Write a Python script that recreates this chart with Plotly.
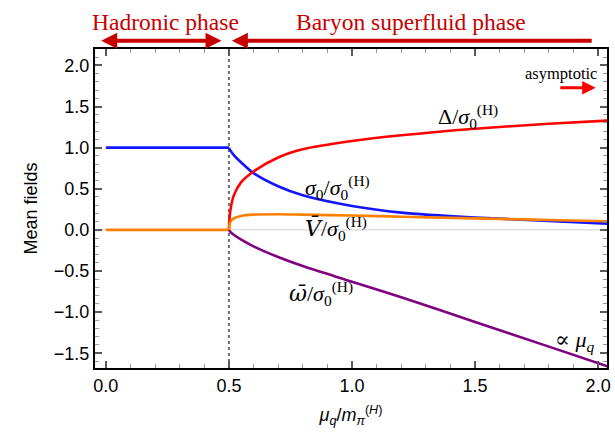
import plotly.graph_objects as go

# ---- data ----
mu_hadronic = [0.0, 0.5]
sigma_hadronic = [1.0, 1.0]
zero_hadronic = [0.0, 0.0]

mu_sf = [0.5, 0.505, 0.52, 0.55, 0.6, 0.7, 0.8, 1.0, 1.2, 1.5, 1.8, 2.04]
sigma0 = [1.0, 0.97, 0.91, 0.82, 0.69, 0.53, 0.42, 0.29, 0.21, 0.15, 0.11, 0.075]
delta = [0.0, 0.22, 0.42, 0.58, 0.71, 0.88, 0.98, 1.08, 1.15, 1.23, 1.29, 1.33]
vbar = [0.0, 0.09, 0.14, 0.17, 0.185, 0.19, 0.185, 0.175, 0.16, 0.14, 0.12, 0.105]
omegabar = [0.0, -0.02, -0.06, -0.12, -0.2, -0.33, -0.44, -0.63, -0.82, -1.12, -1.42, -1.66]

x_ticks = [0.0, 0.5, 1.0, 1.5, 2.0]
y_ticks = [-1.5, -1.0, -0.5, 0.0, 0.5, 1.0, 1.5, 2.0]

BLUE = "rgb(20,20,255)"
RED = "rgb(255,0,0)"
ORANGE = "rgb(255,128,0)"
PURPLE = "rgb(128,0,128)"
DARKRED = "rgb(200,0,0)"
LW = 2.6
SERIF = "Liberation Serif"

fig = go.Figure()

# zero line and transition line
fig.add_shape(type="line", xref="paper", yref="y", x0=0, x1=1, y0=0, y1=0,
              line=dict(color="rgb(205,205,205)", width=1), layer="below")
fig.add_shape(type="line", xref="x", yref="paper", x0=0.5, x1=0.5, y0=0, y1=1,
              line=dict(color="rgb(110,110,110)", width=2, dash="dot"), layer="below")

fig.add_trace(go.Scatter(x=mu_hadronic, y=sigma_hadronic, mode="lines",
                         line=dict(color=BLUE, width=LW)))
fig.add_trace(go.Scatter(x=mu_sf, y=sigma0, mode="lines",
                         line=dict(color=BLUE, width=LW, shape="spline", smoothing=0.8)))
fig.add_trace(go.Scatter(x=mu_sf, y=delta, mode="lines",
                         line=dict(color=RED, width=LW, shape="spline", smoothing=0.8)))
fig.add_trace(go.Scatter(x=mu_hadronic, y=zero_hadronic, mode="lines",
                         line=dict(color=ORANGE, width=LW)))
fig.add_trace(go.Scatter(x=mu_sf, y=omegabar, mode="lines",
                         line=dict(color=PURPLE, width=LW, shape="spline", smoothing=0.8)))
fig.add_trace(go.Scatter(x=mu_sf, y=vbar, mode="lines",
                         line=dict(color=ORANGE, width=LW, shape="spline", smoothing=0.8)))

DJ = "<span style='font-family:DejaVu Serif'>"
tfont = dict(family=SERIF, size=22, color="black")
labels = [
    (1.47, 1.38, "Δ/<i>σ</i><sub>0</sub><sup>(H)</sup>"),
    (0.94, 0.52, "<i>σ</i><sub>0</sub>/<i>σ</i><sub>0</sub><sup>(H)</sup>"),
    (0.935, 0.02, DJ + "<i>V̄</i></span>/<i>σ</i><sub>0</sub><sup>(H)</sup>"),
    (0.875, -0.77, DJ + "<i>ω̄</i></span>/<i>σ</i><sub>0</sub><sup>(H)</sup>"),
    (1.905, -1.35, DJ + "∝</span> <i>μ<sub>q</sub></i>"),
]
for x, y, t in labels:
    fig.add_annotation(x=x, y=y, text=t, showarrow=False, font=tfont)

# asymptotic
fig.add_annotation(x=1.85, y=1.9, text="asymptotic", showarrow=False,
                   font=dict(family=SERIF, size=16.5, color="black"))
fig.add_annotation(x=1.99, y=1.73, ax=1.84, ay=1.73, xref="x", yref="y", axref="x", ayref="y",
                   text="", showarrow=True, arrowhead=2, arrowsize=0.9, arrowwidth=3,
                   arrowcolor=RED)

# phase arrows (above plot)
ytop = 1.026
fig.add_annotation(x=0.47, y=ytop, ax=-0.025, ay=0, xref="x", yref="paper",
                   axref="x", ayref="pixel", text="", showarrow=True,
                   arrowhead=2, startarrowhead=2, arrowside="end+start",
                   arrowsize=0.8, startarrowsize=0.8, arrowwidth=4, arrowcolor=DARKRED)
fig.add_annotation(x=0.512, y=ytop, ax=1.98, ay=0, xref="x", yref="paper",
                   axref="x", ayref="pixel", text="", showarrow=True,
                   arrowhead=2, arrowsize=0.8, arrowwidth=4, arrowcolor=DARKRED)
fig.add_annotation(x=0.242, y=1.085, xref="x", yref="paper", yanchor="middle",
                   text="Hadronic phase",
                   showarrow=False, font=dict(family=SERIF, size=23.5, color=DARKRED))
fig.add_annotation(x=1.238, y=1.085, xref="x", yref="paper", yanchor="middle",
                   text="Baryon superfluid phase",
                   showarrow=False, font=dict(family=SERIF, size=23.5, color=DARKRED))

axis_common = dict(
    showgrid=False, zeroline=False, showline=True, linecolor="black", linewidth=2,
    mirror="allticks", ticks="inside", ticklen=7, tickwidth=1.5, tickcolor="rgb(90,90,90)",
    tickfont=dict(family="Liberation Sans", size=18, color="black"),
)
fig.update_xaxes(range=[-0.044, 2.036], tickvals=x_ticks,
                 ticktext=[f"{v:.1f}" for v in x_ticks],
                 minor=dict(dtick=0.1, tick0=0, ticks="inside", ticklen=4,
                            tickcolor="rgb(150,150,150)", tickwidth=1.2),
                 title=dict(text="<i>μ<sub>q</sub></i>/<i>m</i><sub><i>π</i></sub><sup>(<i>H</i>)</sup>",
                            font=dict(family="Liberation Sans", size=18, color="black"),
                            standoff=14),
                 **axis_common)
fig.update_yaxes(range=[-1.68, 2.2], tickvals=y_ticks,
                 ticktext=[f"{v:.1f}".replace("-", "−") for v in y_ticks],
                 minor=dict(dtick=0.1, tick0=0, ticks="inside", ticklen=4,
                            tickcolor="rgb(150,150,150)", tickwidth=1.2),
                 title=dict(text="Mean fields",
                            font=dict(family="Liberation Sans", size=18, color="black"),
                            standoff=12),
                 **axis_common)

fig.update_layout(
    width=615, height=439, showlegend=False,
    margin=dict(l=95, r=4, t=49, b=71),
    plot_bgcolor="white", paper_bgcolor="white",
)

fig.write_html("out.html")
